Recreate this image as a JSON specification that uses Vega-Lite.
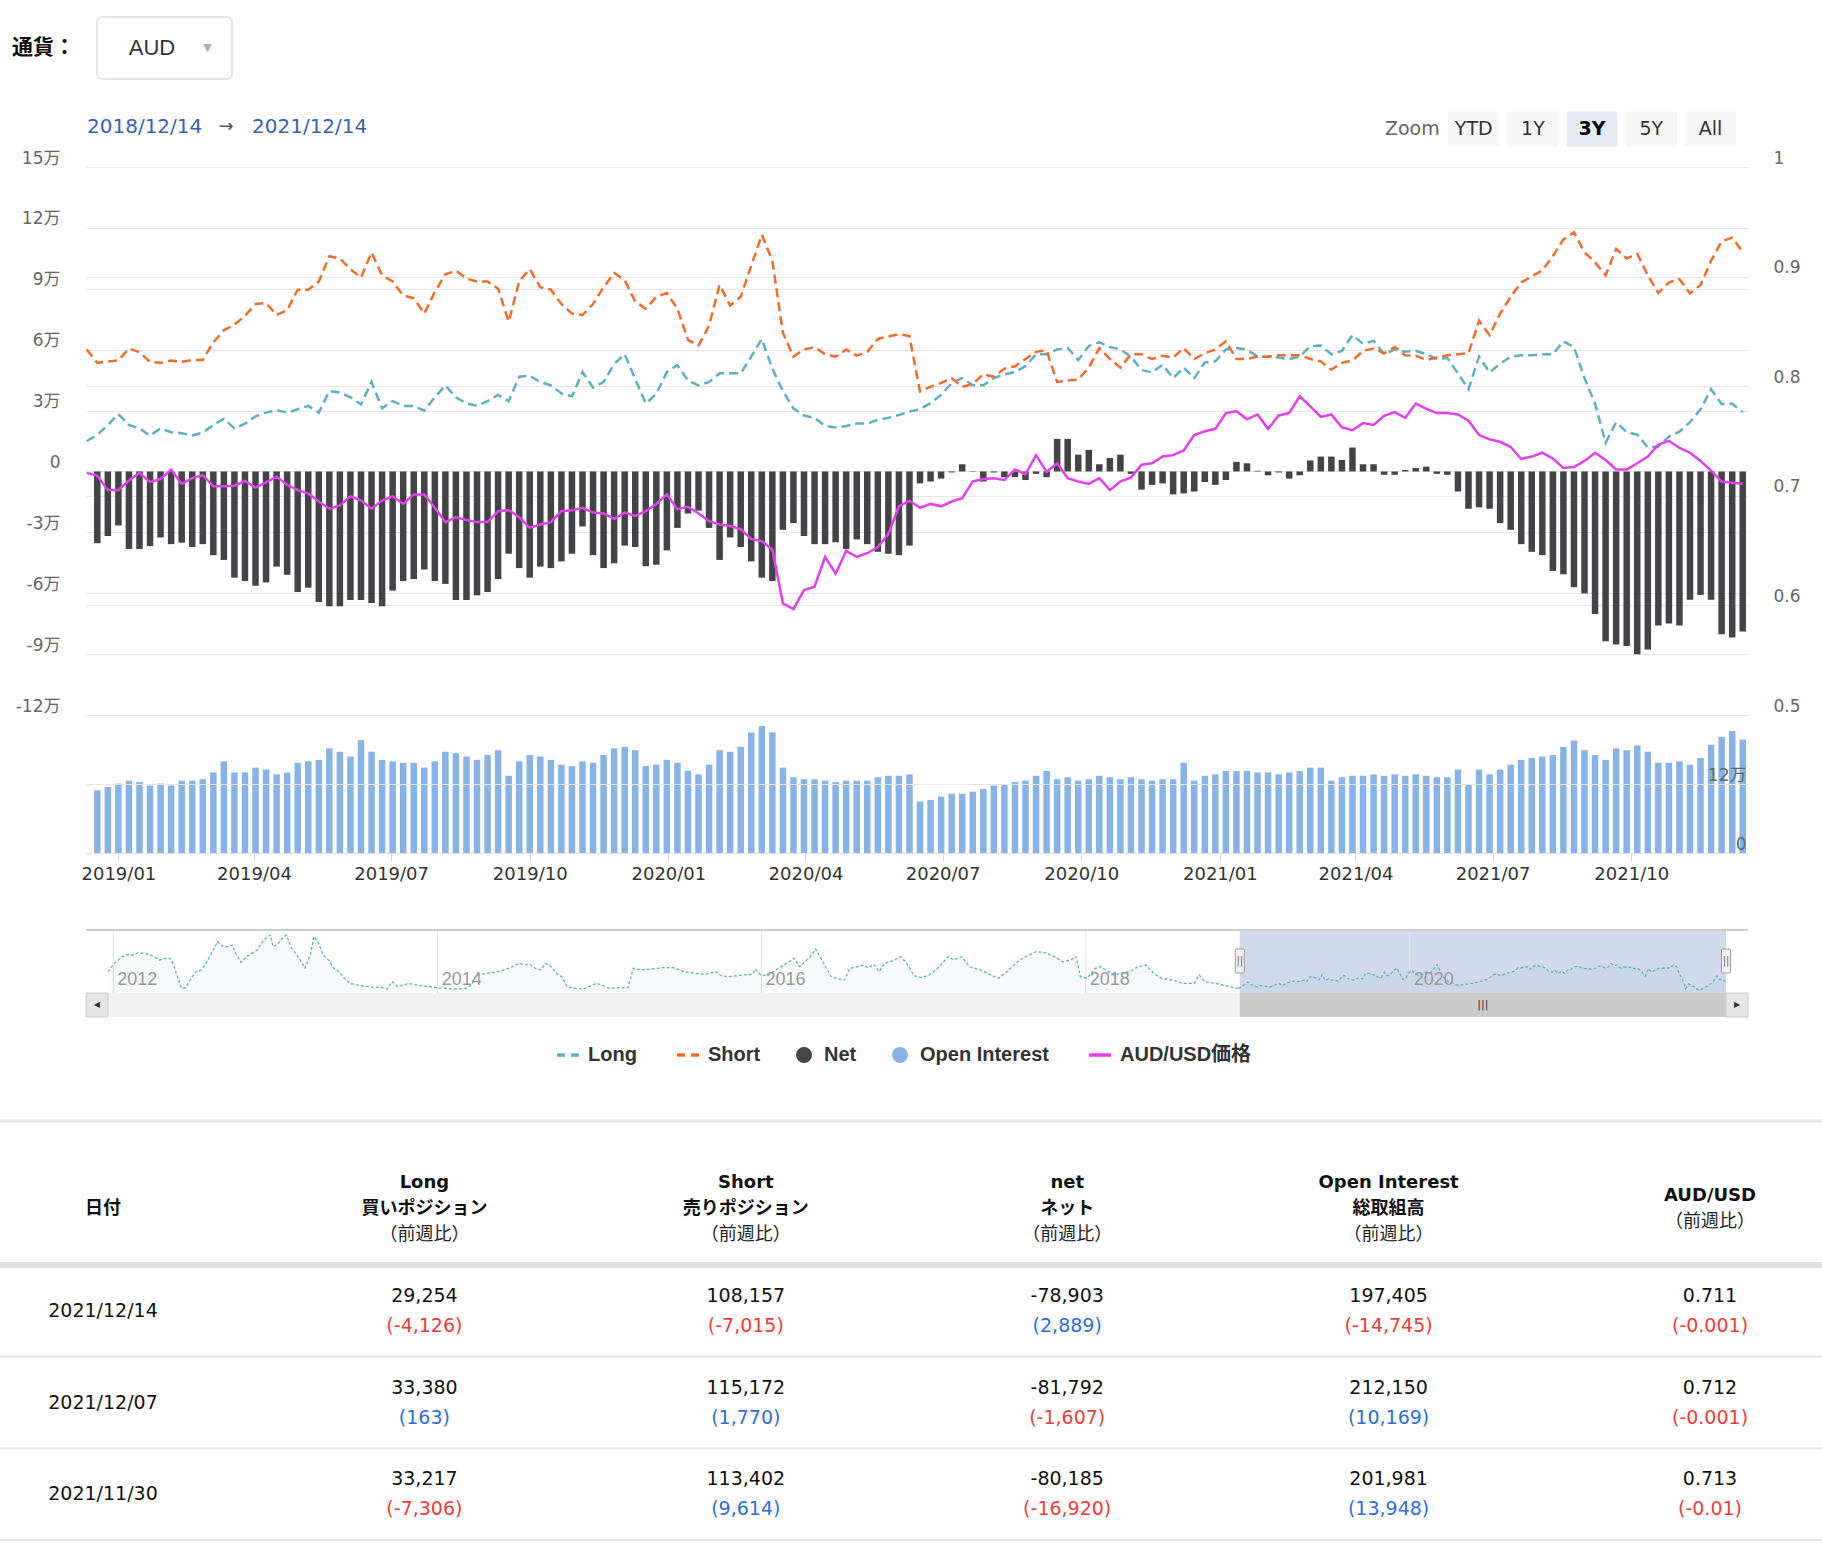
{
"$schema": "https://vega.github.io/schema/vega-lite/v6.json",
"width": 1662,
"height": 686,
"autosize": {"type": "none"},
"padding": {"left": 86, "top": 167, "right": 74, "bottom": 695},
"background": "#ffffff",
"config": {"view": {"stroke": null}, "font": "DejaVu Sans", "axis": {"labelFont": "DejaVu Sans, Noto Sans CJK JP"}, "text": {"font": "DejaVu Sans, Noto Sans CJK JP"}},
"datasets": {
"w": [
{"date":"2018-12-11","long":14850,"short":60100,"net":null,"oi":null,"aud":0.7209},
{"date":"2018-12-18","long":18150,"short":53500,"net":-35360,"oi":109070,"aud":0.7183},
{"date":"2018-12-25","long":22860,"short":54210,"net":-31820,"oi":114940,"aud":0.7052},
{"date":"2019-01-01","long":28280,"short":54680,"net":-26630,"oi":120820,"aud":0.7052},
{"date":"2019-01-08","long":22860,"short":60580,"net":-38180,"oi":125850,"aud":0.714},
{"date":"2019-01-15","long":21210,"short":58690,"net":-38180,"oi":123330,"aud":0.7209},
{"date":"2019-01-22","long":17680,"short":53980,"net":-36770,"oi":117460,"aud":0.7127},
{"date":"2019-01-29","long":21210,"short":53500,"net":-32530,"oi":120820,"aud":0.7153},
{"date":"2019-02-05","long":19330,"short":54680,"net":-35830,"oi":117460,"aud":0.724},
{"date":"2019-02-12","long":18860,"short":53980,"net":-35120,"oi":125850,"aud":0.7109},
{"date":"2019-02-19","long":17680,"short":54920,"net":-37240,"oi":125850,"aud":0.7161},
{"date":"2019-02-26","long":19090,"short":54920,"net":-35830,"oi":128370,"aud":0.7188},
{"date":"2019-03-05","long":22860,"short":63640,"net":-41250,"oi":140110,"aud":0.7087},
{"date":"2019-03-12","long":25930,"short":69530,"net":-43610,"oi":159410,"aud":0.7087},
{"date":"2019-03-19","long":21210,"short":72360,"net":-52330,"oi":140110,"aud":0.7092},
{"date":"2019-03-26","long":23570,"short":76600,"net":-53980,"oi":140110,"aud":0.7135},
{"date":"2019-04-02","long":27110,"short":82500,"net":-56330,"oi":148500,"aud":0.7074},
{"date":"2019-04-09","long":28990,"short":82970,"net":-54680,"oi":145150,"aud":0.7122},
{"date":"2019-04-16","long":30170,"short":77070,"net":-46900,"oi":136760,"aud":0.7175},
{"date":"2019-04-23","long":28990,"short":79430,"net":-50910,"oi":140110,"aud":0.71},
{"date":"2019-04-30","long":30640,"short":89570,"net":-59400,"oi":156890,"aud":0.7052},
{"date":"2019-05-07","long":32290,"short":89570,"net":-57280,"oi":159410,"aud":0.7022},
{"date":"2019-05-14","long":28990,"short":93570,"net":-64350,"oi":161930,"aud":0.6948},
{"date":"2019-05-21","long":39600,"short":106070,"net":-66470,"oi":182060,"aud":0.6882},
{"date":"2019-05-28","long":38890,"short":104890,"net":-66470,"oi":176190,"aud":0.6913},
{"date":"2019-06-04","long":36530,"short":99700,"net":-63400,"oi":167800,"aud":0.6996},
{"date":"2019-06-11","long":33000,"short":95460,"net":-63400,"oi":196330,"aud":0.6956},
{"date":"2019-06-18","long":44080,"short":107950,"net":-64820,"oi":176190,"aud":0.6882},
{"date":"2019-06-25","long":31110,"short":96640,"net":-66470,"oi":161930,"aud":0.6956},
{"date":"2019-07-02","long":34650,"short":93570,"net":-58690,"oi":159410,"aud":0.6996},
{"date":"2019-07-09","long":32290,"short":86740,"net":-53980,"oi":156890,"aud":0.6926},
{"date":"2019-07-16","long":32290,"short":85320,"net":-53030,"oi":156890,"aud":0.7013},
{"date":"2019-07-23","long":29930,"short":77780,"net":-48320,"oi":148500,"aud":0.7013},
{"date":"2019-07-30","long":36530,"short":88390,"net":-53980,"oi":159410,"aud":0.6891},
{"date":"2019-08-06","long":42430,"short":97110,"net":-55390,"oi":176190,"aud":0.676},
{"date":"2019-08-13","long":36530,"short":98990,"net":-63400,"oi":173670,"aud":0.6804},
{"date":"2019-08-20","long":33470,"short":94990,"net":-63400,"oi":167800,"aud":0.678},
{"date":"2019-08-27","long":32290,"short":93570,"net":-61050,"oi":161930,"aud":0.676},
{"date":"2019-09-03","long":34650,"short":93570,"net":-59400,"oi":170320,"aud":0.676},
{"date":"2019-09-10","long":37710,"short":90040,"net":-53030,"oi":178710,"aud":0.686},
{"date":"2019-09-17","long":34650,"short":73770,"net":-40540,"oi":134240,"aud":0.6869},
{"date":"2019-09-24","long":46670,"short":93810,"net":-47610,"oi":159410,"aud":0.6804},
{"date":"2019-10-01","long":47140,"short":99700,"net":-52330,"oi":170320,"aud":0.6708},
{"date":"2019-10-08","long":44080,"short":90750,"net":-46900,"oi":167800,"aud":0.6738},
{"date":"2019-10-15","long":42430,"short":89570,"net":-47610,"oi":161930,"aud":0.676},
{"date":"2019-10-22","long":38420,"short":82500,"net":-44310,"oi":153540,"aud":0.686},
{"date":"2019-10-29","long":37010,"short":77780,"net":-40540,"oi":151020,"aud":0.6869},
{"date":"2019-11-05","long":49030,"short":77070,"net":-27110,"oi":159410,"aud":0.6891},
{"date":"2019-11-12","long":41250,"short":82500,"net":-41250,"oi":156890,"aud":0.6847},
{"date":"2019-11-19","long":44080,"short":90750,"net":-47610,"oi":170320,"aud":0.6839},
{"date":"2019-11-26","long":53030,"short":97820,"net":-45250,"oi":182060,"aud":0.6791},
{"date":"2019-12-03","long":57750,"short":94280,"net":-36530,"oi":184580,"aud":0.6847},
{"date":"2019-12-10","long":45490,"short":83670,"net":-37240,"oi":178710,"aud":0.6817},
{"date":"2019-12-17","long":33470,"short":80140,"net":-46670,"oi":151020,"aud":0.686},
{"date":"2019-12-24","long":38180,"short":86030,"net":-45960,"oi":153540,"aud":0.6926},
{"date":"2019-12-31","long":49030,"short":87920,"net":-38890,"oi":161930,"aud":0.7013},
{"date":"2020-01-07","long":52330,"short":80140,"net":-27810,"oi":156890,"aud":0.6878},
{"date":"2020-01-14","long":44780,"short":64820,"net":-20740,"oi":142630,"aud":0.69},
{"date":"2020-01-21","long":42430,"short":61990,"net":-19330,"oi":136760,"aud":0.6839},
{"date":"2020-01-28","long":44080,"short":71890,"net":-27810,"oi":153540,"aud":0.6769},
{"date":"2020-02-04","long":48320,"short":91920,"net":-43610,"oi":178710,"aud":0.6738},
{"date":"2020-02-11","long":48320,"short":81790,"net":-32530,"oi":176190,"aud":0.6725},
{"date":"2020-02-18","long":48320,"short":86030,"net":-37240,"oi":184580,"aud":0.6695},
{"date":"2020-02-25","long":56570,"short":101350,"net":-44310,"oi":209750,"aud":0.6607},
{"date":"2020-03-03","long":65290,"short":116670,"net":-52330,"oi":220660,"aud":0.6586},
{"date":"2020-03-10","long":50680,"short":103710,"net":-53980,"oi":209750,"aud":0.6511},
{"date":"2020-03-17","long":39600,"short":68350,"net":-28760,"oi":148500,"aud":0.6018},
{"date":"2020-03-24","long":31110,"short":56570,"net":-25460,"oi":131720,"aud":0.5966},
{"date":"2020-03-31","long":27580,"short":60100,"net":-31820,"oi":128370,"aud":0.614},
{"date":"2020-04-07","long":26400,"short":61280,"net":-35830,"oi":128370,"aud":0.6171},
{"date":"2020-04-14","long":22390,"short":57750,"net":-35830,"oi":125850,"aud":0.6442},
{"date":"2020-04-21","long":21680,"short":56570,"net":-34880,"oi":123330,"aud":0.6289},
{"date":"2020-04-28","long":22390,"short":60100,"net":-38180,"oi":125850,"aud":0.6498},
{"date":"2020-05-05","long":23570,"short":57040,"net":-33470,"oi":125850,"aud":0.6442},
{"date":"2020-05-12","long":23570,"short":58930,"net":-35830,"oi":125850,"aud":0.6476},
{"date":"2020-05-19","long":25460,"short":65290,"net":-39600,"oi":131720,"aud":0.6533},
{"date":"2020-05-26","long":26400,"short":66470,"net":-40540,"oi":134240,"aud":0.6651},
{"date":"2020-06-02","long":27810,"short":67650,"net":-41250,"oi":134240,"aud":0.6904},
{"date":"2020-06-09","long":29460,"short":66700,"net":-36530,"oi":136760,"aud":0.6956},
{"date":"2020-06-16","long":30640,"short":39360,"net":-5890,"oi":89770,"aud":0.6891},
{"date":"2020-06-23","long":33710,"short":41720,"net":-4950,"oi":92290,"aud":0.6926},
{"date":"2020-06-30","long":37710,"short":43610,"net":-3540,"oi":98160,"aud":0.6904},
{"date":"2020-07-07","long":43610,"short":45960,"net":-500,"oi":103200,"aud":0.6948},
{"date":"2020-07-14","long":45960,"short":41720,"net":3540,"oi":103200,"aud":0.6978},
{"date":"2020-07-21","long":42430,"short":43130,"net":-200,"oi":106550,"aud":0.7131},
{"date":"2020-07-28","long":42430,"short":47850,"net":-4950,"oi":111590,"aud":0.7153},
{"date":"2020-08-04","long":45960,"short":46670,"net":-500,"oi":117460,"aud":0.7161},
{"date":"2020-08-11","long":47850,"short":50680,"net":-2830,"oi":119980,"aud":0.7144},
{"date":"2020-08-18","long":49030,"short":51850,"net":-2830,"oi":123330,"aud":0.724},
{"date":"2020-08-25","long":51850,"short":55390,"net":-4240,"oi":125850,"aud":0.7196},
{"date":"2020-09-01","long":57750,"short":58930,"net":-1180,"oi":134240,"aud":0.7371},
{"date":"2020-09-08","long":57750,"short":59630,"net":-2830,"oi":142630,"aud":0.7218},
{"date":"2020-09-15","long":60100,"short":44080,"net":16030,"oi":128370,"aud":0.7297},
{"date":"2020-09-22","long":60810,"short":44780,"net":16030,"oi":131720,"aud":0.7161},
{"date":"2020-09-29","long":54920,"short":45250,"net":8250,"oi":125850,"aud":0.7131},
{"date":"2020-10-06","long":61750,"short":51150,"net":10610,"oi":128370,"aud":0.7109},
{"date":"2020-10-13","long":63640,"short":60810,"net":3540,"oi":134240,"aud":0.7161},
{"date":"2020-10-20","long":61280,"short":55390,"net":6600,"oi":131720,"aud":0.7052},
{"date":"2020-10-27","long":60100,"short":51150,"net":8250,"oi":128370,"aud":0.7131},
{"date":"2020-11-03","long":56570,"short":57750,"net":-1180,"oi":131720,"aud":0.7166},
{"date":"2020-11-10","long":49970,"short":57750,"net":-8960,"oi":128370,"aud":0.7284},
{"date":"2020-11-17","long":48790,"short":55390,"net":-6600,"oi":125850,"aud":0.7297},
{"date":"2020-11-24","long":52560,"short":57040,"net":-5890,"oi":128370,"aud":0.7358},
{"date":"2020-12-01","long":45960,"short":56100,"net":-11310,"oi":128370,"aud":0.7371},
{"date":"2020-12-08","long":51150,"short":60810,"net":-10840,"oi":156890,"aud":0.7414},
{"date":"2020-12-15","long":45960,"short":55390,"net":-9900,"oi":125850,"aud":0.7554},
{"date":"2020-12-22","long":53740,"short":58220,"net":-5190,"oi":134240,"aud":0.7589},
{"date":"2020-12-29","long":54210,"short":60100,"net":-6600,"oi":136760,"aud":0.7611},
{"date":"2021-01-05","long":60100,"short":64110,"net":-4240,"oi":142630,"aud":0.7755},
{"date":"2021-01-12","long":60810,"short":55390,"net":4710,"oi":142630,"aud":0.7772},
{"date":"2021-01-19","long":60100,"short":55390,"net":4010,"oi":142630,"aud":0.7698},
{"date":"2021-01-26","long":56570,"short":56570,"net":300,"oi":140110,"aud":0.7742},
{"date":"2021-02-02","long":56570,"short":56570,"net":-1890,"oi":140110,"aud":0.7611},
{"date":"2021-02-09","long":56100,"short":57280,"net":-500,"oi":136760,"aud":0.7733},
{"date":"2021-02-16","long":55390,"short":57280,"net":-3540,"oi":140110,"aud":0.7755},
{"date":"2021-02-23","long":56570,"short":57280,"net":-1890,"oi":142630,"aud":0.7908},
{"date":"2021-03-02","long":61750,"short":55390,"net":5420,"oi":148500,"aud":0.7816},
{"date":"2021-03-09","long":61990,"short":54210,"net":7310,"oi":148500,"aud":0.772},
{"date":"2021-03-16","long":57750,"short":50200,"net":7310,"oi":125850,"aud":0.7742},
{"date":"2021-03-23","long":59400,"short":53500,"net":5660,"oi":131720,"aud":0.7624},
{"date":"2021-03-30","long":67180,"short":54680,"net":11790,"oi":134240,"aud":0.7598},
{"date":"2021-04-06","long":62930,"short":59400,"net":3540,"oi":134240,"aud":0.7663},
{"date":"2021-04-13","long":64350,"short":60580,"net":3540,"oi":136760,"aud":0.7646},
{"date":"2021-04-20","long":57750,"short":58220,"net":-1650,"oi":134240,"aud":0.7729},
{"date":"2021-04-27","long":60100,"short":61280,"net":-1650,"oi":136760,"aud":0.7764},
{"date":"2021-05-04","long":58930,"short":57280,"net":700,"oi":134240,"aud":0.7711},
{"date":"2021-05-11","long":59400,"short":57040,"net":1650,"oi":136760,"aud":0.7842},
{"date":"2021-05-18","long":57750,"short":54920,"net":2360,"oi":134240,"aud":0.7794},
{"date":"2021-05-25","long":55390,"short":56100,"net":-1200,"oi":131720,"aud":0.7755},
{"date":"2021-06-01","long":55860,"short":57280,"net":-1650,"oi":131720,"aud":0.7755},
{"date":"2021-06-08","long":48320,"short":57750,"net":-9900,"oi":145150,"aud":0.7742},
{"date":"2021-06-15","long":40540,"short":58220,"net":-18390,"oi":119980,"aud":0.7685},
{"date":"2021-06-22","long":56570,"short":74250,"net":-17680,"oi":145150,"aud":0.7554},
{"date":"2021-06-29","long":48790,"short":67180,"net":-18390,"oi":136760,"aud":0.7515},
{"date":"2021-07-06","long":53030,"short":77780,"net":-25460,"oi":145150,"aud":0.7493},
{"date":"2021-07-13","long":56570,"short":86030,"net":-28760,"oi":153540,"aud":0.7445},
{"date":"2021-07-20","long":57280,"short":93100,"net":-35830,"oi":161930,"aud":0.7336},
{"date":"2021-07-27","long":57280,"short":96170,"net":-39600,"oi":165280,"aud":0.7358},
{"date":"2021-08-03","long":57750,"short":98990,"net":-41250,"oi":167800,"aud":0.7393},
{"date":"2021-08-10","long":57750,"short":106070,"net":-49030,"oi":170320,"aud":0.734},
{"date":"2021-08-17","long":64110,"short":114320,"net":-50680,"oi":184580,"aud":0.7253},
{"date":"2021-08-24","long":61280,"short":117850,"net":-57040,"oi":195490,"aud":0.7262},
{"date":"2021-08-31","long":45960,"short":107950,"net":-60100,"oi":178710,"aud":0.7318},
{"date":"2021-09-07","long":33470,"short":103000,"net":-70240,"oi":170320,"aud":0.7393},
{"date":"2021-09-14","long":14140,"short":96640,"net":-83670,"oi":161930,"aud":0.7327},
{"date":"2021-09-21","long":24280,"short":109600,"net":-85320,"oi":182060,"aud":0.724},
{"date":"2021-09-28","long":19330,"short":104890,"net":-86030,"oi":178710,"aud":0.724},
{"date":"2021-10-05","long":18150,"short":107240,"net":-90040,"oi":187100,"aud":0.7297},
{"date":"2021-10-12","long":11790,"short":96640,"net":-87680,"oi":176190,"aud":0.7358},
{"date":"2021-10-19","long":12260,"short":87920,"net":-75890,"oi":156890,"aud":0.7467},
{"date":"2021-10-26","long":17210,"short":93100,"net":-74950,"oi":156890,"aud":0.7502},
{"date":"2021-11-02","long":19560,"short":94750,"net":-75890,"oi":159410,"aud":0.7436},
{"date":"2021-11-09","long":24280,"short":87680,"net":-63170,"oi":153540,"aud":0.7393},
{"date":"2021-11-16","long":30640,"short":91920,"net":-60810,"oi":165280,"aud":0.7318},
{"date":"2021-11-23","long":40523,"short":103788,"net":-63265,"oi":188033,"aud":0.723},
{"date":"2021-11-30","long":33217,"short":113402,"net":-80185,"oi":201981,"aud":0.713},
{"date":"2021-12-07","long":33380,"short":115172,"net":-81792,"oi":212150,"aud":0.712},
{"date":"2021-12-14","long":29254,"short":108157,"net":-78903,"oi":197405,"aud":0.711}
],
"nav": [
{"date":"2011-12-20","long":50000},{"date":"2012-01-03","long":67600},{"date":"2012-01-21","long":81700},{"date":"2012-02-02","long":86600},
{"date":"2012-02-14","long":85200},{"date":"2012-02-26","long":90100},{"date":"2012-03-09","long":88700},{"date":"2012-03-21","long":86600},
{"date":"2012-04-02","long":81700},{"date":"2012-04-14","long":74700},{"date":"2012-04-26","long":78200},{"date":"2012-05-08","long":78200},
{"date":"2012-05-14","long":67600},{"date":"2012-05-26","long":36000},{"date":"2012-06-03","long":14900},{"date":"2012-06-12","long":16300},
{"date":"2012-06-24","long":36000},{"date":"2012-07-06","long":50000},{"date":"2012-07-18","long":53600},{"date":"2012-07-30","long":71100},
{"date":"2012-08-11","long":92300},{"date":"2012-08-23","long":113400},{"date":"2012-09-04","long":102800},{"date":"2012-09-16","long":102800},
{"date":"2012-09-25","long":106300},{"date":"2012-10-03","long":88700},{"date":"2012-10-15","long":69700},{"date":"2012-10-27","long":81700},
{"date":"2012-11-08","long":88700},{"date":"2012-11-20","long":95800},{"date":"2012-12-02","long":113400},{"date":"2012-12-14","long":123900},
{"date":"2012-12-20","long":127400},{"date":"2012-12-26","long":102800},{"date":"2013-01-07","long":109900},{"date":"2013-01-19","long":123900},
{"date":"2013-01-25","long":127400},{"date":"2013-02-06","long":99300},{"date":"2013-02-18","long":85200},{"date":"2013-03-02","long":67600},
{"date":"2013-03-08","long":57100},{"date":"2013-03-20","long":85200},{"date":"2013-03-28","long":123900},{"date":"2013-04-06","long":113400},
{"date":"2013-04-18","long":85200},{"date":"2013-04-30","long":74700},{"date":"2013-05-12","long":57100},{"date":"2013-05-24","long":50000},
{"date":"2013-06-05","long":36000},{"date":"2013-06-17","long":25400},{"date":"2013-06-29","long":23300},{"date":"2013-07-11","long":20500},
{"date":"2013-08-04","long":17700},{"date":"2013-08-28","long":16300},{"date":"2013-09-09","long":13400},{"date":"2013-09-21","long":28900},
{"date":"2013-10-03","long":18400},{"date":"2013-10-15","long":21900},{"date":"2013-10-27","long":25400},{"date":"2013-11-20","long":20500},
{"date":"2013-12-14","long":18400},{"date":"2013-12-30","long":16300},{"date":"2014-01-17","long":14900},{"date":"2014-02-10","long":13400},
{"date":"2014-03-06","long":14900},{"date":"2014-03-18","long":21900},{"date":"2014-03-30","long":43000},{"date":"2014-04-23","long":46500},
{"date":"2014-05-17","long":50000},{"date":"2014-06-10","long":57100},{"date":"2014-07-04","long":67600},{"date":"2014-07-16","long":64100},
{"date":"2014-07-28","long":65500},{"date":"2014-08-09","long":57100},{"date":"2014-08-21","long":53600},{"date":"2014-09-02","long":67600},
{"date":"2014-09-14","long":60600},{"date":"2014-09-26","long":46500},{"date":"2014-10-08","long":39500},{"date":"2014-10-20","long":18400},
{"date":"2014-11-07","long":14900},{"date":"2014-11-25","long":13400},{"date":"2014-12-13","long":20500},{"date":"2014-12-25","long":25400},
{"date":"2015-01-05","long":21900},{"date":"2015-01-23","long":14900},{"date":"2015-02-16","long":16300},{"date":"2015-03-06","long":16300},
{"date":"2015-03-18","long":57100},{"date":"2015-04-05","long":53600},{"date":"2015-04-29","long":55700},{"date":"2015-05-23","long":58500},
{"date":"2015-06-16","long":58500},{"date":"2015-07-10","long":50000},{"date":"2015-08-03","long":46500},{"date":"2015-08-27","long":44400},
{"date":"2015-09-20","long":50000},{"date":"2015-10-01","long":41600},{"date":"2015-10-19","long":39500},{"date":"2015-11-18","long":43000},
{"date":"2015-12-12","long":44400},{"date":"2015-12-18","long":55700},{"date":"2015-12-30","long":43000},{"date":"2016-01-15","long":41600},
{"date":"2016-02-08","long":57100},{"date":"2016-03-03","long":71100},{"date":"2016-03-15","long":78200},{"date":"2016-03-27","long":60600},
{"date":"2016-04-08","long":71100},{"date":"2016-04-20","long":81700},{"date":"2016-05-02","long":97900},{"date":"2016-05-14","long":78200},
{"date":"2016-05-26","long":57100},{"date":"2016-06-06","long":39500},{"date":"2016-06-18","long":36000},{"date":"2016-07-06","long":32400},
{"date":"2016-07-18","long":57100},{"date":"2016-08-05","long":60600},{"date":"2016-08-17","long":64100},{"date":"2016-08-29","long":58500},
{"date":"2016-09-10","long":65500},{"date":"2016-09-22","long":50000},{"date":"2016-10-04","long":67600},{"date":"2016-10-22","long":72600},
{"date":"2016-11-09","long":81700},{"date":"2016-11-21","long":71100},{"date":"2016-12-09","long":43000},{"date":"2016-12-15","long":39500},
{"date":"2016-12-27","long":37400},{"date":"2017-01-13","long":43000},{"date":"2017-02-01","long":57100},{"date":"2017-02-25","long":81700},
{"date":"2017-03-09","long":74700},{"date":"2017-03-27","long":81700},{"date":"2017-04-14","long":60600},{"date":"2017-05-08","long":53600},
{"date":"2017-06-01","long":43000},{"date":"2017-06-19","long":36000},{"date":"2017-07-07","long":50000},{"date":"2017-07-31","long":71100},
{"date":"2017-08-18","long":81700},{"date":"2017-09-11","long":92300},{"date":"2017-09-29","long":90900},{"date":"2017-10-23","long":81700},
{"date":"2017-11-10","long":71100},{"date":"2017-11-28","long":74700},{"date":"2017-12-10","long":81700},{"date":"2017-12-20","long":39500},
{"date":"2018-01-04","long":36000},{"date":"2018-01-22","long":57100},{"date":"2018-02-03","long":60600},{"date":"2018-02-15","long":53600},
{"date":"2018-03-05","long":43000},{"date":"2018-03-23","long":46500},{"date":"2018-04-10","long":50000},{"date":"2018-04-28","long":60600},
{"date":"2018-05-16","long":64100},{"date":"2018-06-03","long":46500},{"date":"2018-06-21","long":36000},{"date":"2018-07-15","long":32400},
{"date":"2018-08-08","long":25400},{"date":"2018-09-02","long":25400},{"date":"2018-09-14","long":43000},{"date":"2018-09-26","long":28900},
{"date":"2018-10-20","long":25400},{"date":"2018-11-13","long":20500},{"date":"2018-12-01","long":16300},{"date":"2018-12-11","long":14850}
],
"years": [{"year":"2012-01-01"},{"year":"2014-01-01"},{"year":"2016-01-01"},{"year":"2018-01-01"},{"year":"2020-01-01"}],
"handles": [{"at":"2018-12-14"},{"at":"2021-12-14"}],
"rows": [{"date":"2021/12/14"},{"date":"2021/12/07"},{"date":"2021/11/30"}],
"cells": [
{"date":"2021/12/14","col":"long","value":"29,254","change":"(-4,126)"},
{"date":"2021/12/14","col":"short","value":"108,157","change":"(-7,015)"},
{"date":"2021/12/14","col":"net","value":"-78,903","change":"(2,889)"},
{"date":"2021/12/14","col":"oi","value":"197,405","change":"(-14,745)"},
{"date":"2021/12/14","col":"aud","value":"0.711","change":"(-0.001)"},
{"date":"2021/12/07","col":"long","value":"33,380","change":"(163)"},
{"date":"2021/12/07","col":"short","value":"115,172","change":"(1,770)"},
{"date":"2021/12/07","col":"net","value":"-81,792","change":"(-1,607)"},
{"date":"2021/12/07","col":"oi","value":"212,150","change":"(10,169)"},
{"date":"2021/12/07","col":"aud","value":"0.712","change":"(-0.001)"},
{"date":"2021/11/30","col":"long","value":"33,217","change":"(-7,306)"},
{"date":"2021/11/30","col":"short","value":"113,402","change":"(9,614)"},
{"date":"2021/11/30","col":"net","value":"-80,185","change":"(-16,920)"},
{"date":"2021/11/30","col":"oi","value":"201,981","change":"(13,948)"},
{"date":"2021/11/30","col":"aud","value":"0.713","change":"(-0.01)"}
],
"heads": [
{"col":"date","t1":"日付"},
{"col":"long","t1":"Long","t2":"買いポジション","t3":"（前週比）"},
{"col":"short","t1":"Short","t2":"売りポジション","t3":"（前週比）"},
{"col":"net","t1":"net","t2":"ネット","t3":"（前週比）"},
{"col":"oi","t1":"Open Interest","t2":"総取組高","t3":"（前週比）"},
{"col":"aud","t1":"AUD/USD","t3":"（前週比）"}
],
"btns": [{"range":"YTD"},{"range":"1Y"},{"range":"3Y","active":true},{"range":"5Y"},{"range":"All"}]
},
"resolve": {"scale": {"x": "independent", "y": "independent"}, "axis": {"x": "independent", "y": "independent"}},
"layer": [
{
 "data": {"name": "w"},
 "layer": [
  {
   "mark": {"type": "bar", "width": 6.5},
   "encoding": {
    "x": {"field": "date", "type": "temporal",
      "scale": {"type": "utc", "nice": false, "padding": 0, "domain": [{"year": 2018, "month": 12, "date": 10, "hours": 12, "utc": true}, {"year": 2021, "month": 12, "date": 17, "hours": 12, "utc": true}]},
      "axis": {"orient": "bottom", "values": [
        {"year": 2019, "month": 1, "date": 1, "utc": true}, {"year": 2019, "month": 4, "date": 1, "utc": true}, {"year": 2019, "month": 7, "date": 1, "utc": true}, {"year": 2019, "month": 10, "date": 1, "utc": true},
        {"year": 2020, "month": 1, "date": 1, "utc": true}, {"year": 2020, "month": 4, "date": 1, "utc": true}, {"year": 2020, "month": 7, "date": 1, "utc": true}, {"year": 2020, "month": 10, "date": 1, "utc": true},
        {"year": 2021, "month": 1, "date": 1, "utc": true}, {"year": 2021, "month": 4, "date": 1, "utc": true}, {"year": 2021, "month": 7, "date": 1, "utc": true}, {"year": 2021, "month": 10, "date": 1, "utc": true}],
        "format": "%Y/%m", "labelFontSize": 18, "labelColor": "#333333", "labelPadding": 4, "labelFlush": false, "labelOverlap": false,
        "tickColor": "#ccd6eb", "tickSize": 8, "domainColor": "#ccd6eb", "grid": false, "title": null}},
    "y": {"field": "net", "type": "quantitative", "scale": {"domain": [-120000, 150000], "range": [548, 0], "nice": false, "zero": false},
      "axis": {"orient": "left", "values": [-120000, -90000, -60000, -30000, 0, 30000, 60000, 90000, 120000, 150000],
        "labelExpr": "datum.value == 0 ? '0' : (datum.value / 10000) + '万'", "grid": true, "gridColor": "#e6e6e6", "domain": false, "ticks": false, "tickSize": 0,
        "labelPadding": 26, "labelFontSize": 17, "labelColor": "#666666", "labelOffset": -9, "labelFlush": false, "labelOverlap": false, "title": null}},
    "color": {"datum": "Net", "scale": {"domain": ["Long", "Short", "Net", "Open Interest", "AUD/USD価格"], "range": ["#5eafc2", "#f26c2b", "#434348", "#88b3e6", "#e43ff1"]},
      "legend": {"orient": "none", "legendX": 472, "legendY": 878, "direction": "horizontal", "title": null,
        "labelFont": "Liberation Sans, Noto Sans CJK JP", "labelFontSize": 20, "labelFontWeight": "bold", "labelColor": "#333333",
        "symbolSize": 484, "labelOffset": 10, "columnPadding": 33, "padding": 0, "symbolType": "circle",
        "encode": {"symbols": {"update": {
          "shape": {"signal": "datum.value === 'Net' || datum.value === 'Open Interest' ? 'circle' : 'M-1,0H1'"},
          "size": {"signal": "datum.value === 'Net' || datum.value === 'Open Interest' ? 254 : 484"},
          "fill": {"signal": "datum.value === 'Net' || datum.value === 'Open Interest' ? scale('color', datum.value) : 'transparent'"},
          "stroke": {"signal": "scale('color', datum.value)"},
          "strokeWidth": {"signal": "datum.value === 'Net' || datum.value === 'Open Interest' ? 0 : 3.5"},
          "strokeDash": {"signal": "datum.value === 'Long' || datum.value === 'Short' ? [8, 6] : [1, 0]"},
          "opacity": {"value": 1}}}}}}
   }
  },
  {
   "mark": {"type": "line", "strokeWidth": 2.5, "strokeDash": [9, 5]},
   "encoding": {"x": {"field": "date", "type": "temporal"}, "y": {"field": "long", "type": "quantitative"}, "color": {"datum": "Long"}}
  },
  {
   "mark": {"type": "line", "strokeWidth": 2.5, "strokeDash": [9, 5]},
   "encoding": {"x": {"field": "date", "type": "temporal"}, "y": {"field": "short", "type": "quantitative"}, "color": {"datum": "Short"}}
  }
 ]
},
{
 "data": {"name": "w"},
 "mark": {"type": "line", "strokeWidth": 2.5},
 "encoding": {
  "x": {"field": "date", "type": "temporal", "scale": {"type": "utc", "nice": false, "padding": 0, "domain": [{"year": 2018, "month": 12, "date": 10, "hours": 12, "utc": true}, {"year": 2021, "month": 12, "date": 17, "hours": 12, "utc": true}]}, "axis": null},
  "y": {"field": "aud", "type": "quantitative", "scale": {"domain": [0.5, 1], "range": [548, 0], "nice": false, "zero": false},
    "axis": {"orient": "right", "values": [0.5, 0.6, 0.7, 0.8, 0.9, 1], "format": "~g", "grid": true, "gridColor": "#e6e6e6", "domain": false, "ticks": false, "tickSize": 0,
      "labelPadding": 25, "labelAlign": "left", "labelFontSize": 17, "labelColor": "#666666", "labelOffset": -9, "labelFlush": false, "labelOverlap": false, "title": null}},
  "color": {"datum": "AUD/USD価格"}
 }
},
{
 "data": {"name": "w"},
 "mark": {"type": "bar", "width": 6.5},
 "encoding": {
  "x": {"field": "date", "type": "temporal", "scale": {"type": "utc", "nice": false, "padding": 0, "domain": [{"year": 2018, "month": 12, "date": 10, "hours": 12, "utc": true}, {"year": 2021, "month": 12, "date": 17, "hours": 12, "utc": true}]}, "axis": null},
  "y": {"field": "oi", "type": "quantitative", "scale": {"domain": [0, 240000], "range": [686, 548], "nice": false},
    "axis": {"orient": "right", "values": [0, 120000], "labelExpr": "datum.value == 0 ? '0' : (datum.value / 10000) + '万'", "grid": true, "gridColor": "#e6e6e6", "domain": false, "ticks": false, "tickSize": 0,
      "labelPadding": -2, "labelAlign": "right", "labelFontSize": 17, "labelColor": "#666666", "labelOffset": -9, "labelFlush": false, "labelOverlap": false, "title": null, "zindex": 1}},
  "color": {"datum": "Open Interest"}
 }
},
{
 "layer": [
  {"data": {"values": [{}]}, "mark": {"type": "rect", "color": "#6685c2", "opacity": 0.3},
   "encoding": {
    "x": {"datum": {"year": 2018, "month": 12, "date": 14, "utc": true}, "type": "temporal", "scale": {"type": "utc", "nice": false, "padding": 0, "domain": [{"year": 2011, "month": 12, "date": 20, "utc": true}, {"year": 2021, "month": 12, "date": 14, "utc": true}], "range": [22, 1640]}, "axis": null},
    "x2": {"datum": {"year": 2021, "month": 12, "date": 14, "utc": true}},
    "y": {"datum": 5000, "type": "quantitative", "scale": {"domain": [5000, 138000], "range": [826, 763], "nice": false, "zero": false, "padding": 0}, "axis": null},
    "y2": {"datum": 138000}}},
  {"data": {"name": "years"}, "mark": {"type": "rule", "color": "#e3e3e3", "strokeWidth": 1},
   "encoding": {"x": {"field": "year", "type": "temporal"}, "y": {"datum": 5000, "type": "quantitative"}, "y2": {"datum": 138000}}},
  {"data": {"name": "nav"}, "mark": {"type": "area", "color": "#5eafc2", "opacity": 0.06},
   "encoding": {"x": {"field": "date", "type": "temporal"}, "y": {"field": "long", "type": "quantitative"}, "y2": {"datum": 5000}}},
  {"data": {"name": "w"}, "mark": {"type": "area", "color": "#5eafc2", "opacity": 0.06},
   "encoding": {"x": {"field": "date", "type": "temporal"}, "y": {"field": "long", "type": "quantitative"}, "y2": {"datum": 5000}}},
  {"data": {"name": "nav"}, "mark": {"type": "line", "color": "#5eafc2", "strokeWidth": 1.3, "strokeDash": [3, 2]},
   "encoding": {"x": {"field": "date", "type": "temporal"}, "y": {"field": "long", "type": "quantitative"}}},
  {"data": {"name": "w"}, "mark": {"type": "line", "color": "#5eafc2", "strokeWidth": 1.3, "strokeDash": [3, 2]},
   "encoding": {"x": {"field": "date", "type": "temporal"}, "y": {"field": "long", "type": "quantitative"}}},
  {"data": {"name": "years"}, "mark": {"type": "text", "align": "left", "baseline": "bottom", "dx": 4, "dy": -4, "font": "Liberation Sans", "fontSize": 18, "color": "#999999"},
   "encoding": {"x": {"field": "year", "type": "temporal"}, "y": {"datum": 5000, "type": "quantitative"}, "text": {"field": "year", "type": "temporal", "timeUnit": "utcyear"}}},
  {"data": {"values": [{}]}, "mark": {"type": "rule", "color": "#cccccc", "strokeWidth": 2},
   "encoding": {"y": {"datum": 138000, "type": "quantitative"}}},
  {"data": {"name": "handles"}, "mark": {"type": "bar", "width": 9, "color": "#f2f2f2", "stroke": "#999999", "strokeWidth": 1, "cornerRadius": 1},
   "encoding": {"x": {"field": "at", "type": "temporal"}, "y": {"datum": 47200, "type": "quantitative"}, "y2": {"datum": 97900}}},
  {"data": {"name": "handles"}, "mark": {"type": "text", "text": "||", "fontSize": 10, "color": "#666666"},
   "encoding": {"x": {"field": "at", "type": "temporal"}, "y": {"datum": 72500, "type": "quantitative"}}}
 ]
},
{
 "data": {"values": [{}]},
 "layer": [
  {"mark": {"type": "rect", "color": "#f2f2f2"},
   "encoding": {
    "x": {"datum": {"year": 2011, "month": 10, "date": 31, "hours": 10, "utc": true}, "type": "temporal", "scale": {"type": "utc", "nice": false, "padding": 0, "domain": [{"year": 2011, "month": 12, "date": 20, "utc": true}, {"year": 2021, "month": 12, "date": 14, "utc": true}], "range": [22, 1640]}, "axis": null},
    "x2": {"datum": {"year": 2022, "month": 2, "date": 1, "hours": 14, "utc": true}},
    "y": {"datum": 0, "type": "quantitative", "scale": {"domain": [0, 1], "range": [850, 826], "nice": false, "padding": 0}, "axis": null},
    "y2": {"datum": 1}}},
  {"mark": {"type": "rect", "color": "#cccccc"},
   "encoding": {"x": {"datum": {"year": 2018, "month": 12, "date": 14, "utc": true}, "type": "temporal"}, "x2": {"datum": {"year": 2021, "month": 12, "date": 14, "utc": true}}, "y": {"datum": 0, "type": "quantitative"}, "y2": {"datum": 1}}},
  {"mark": {"type": "rect", "color": "#e6e6e6", "stroke": "#cccccc", "strokeWidth": 1},
   "encoding": {"x": {"datum": {"year": 2011, "month": 10, "date": 31, "hours": 10, "utc": true}, "type": "temporal"}, "x2": {"datum": {"year": 2011, "month": 12, "date": 20, "utc": true}}, "y": {"datum": 0, "type": "quantitative"}, "y2": {"datum": 1}}},
  {"mark": {"type": "rect", "color": "#e6e6e6", "stroke": "#cccccc", "strokeWidth": 1},
   "encoding": {"x": {"datum": {"year": 2021, "month": 12, "date": 14, "utc": true}, "type": "temporal"}, "x2": {"datum": {"year": 2022, "month": 2, "date": 1, "hours": 14, "utc": true}}, "y": {"datum": 0, "type": "quantitative"}, "y2": {"datum": 1}}},
  {"mark": {"type": "text", "text": "|||", "fontSize": 11, "color": "#333333"},
   "encoding": {"x": {"datum": {"year": 2020, "month": 6, "date": 14, "utc": true}, "type": "temporal"}, "y": {"datum": 0.5, "type": "quantitative"}}},
  {"mark": {"type": "text", "text": "◀", "fontSize": 8, "color": "#333333"},
   "encoding": {"x": {"datum": {"year": 2011, "month": 11, "date": 25, "utc": true}, "type": "temporal"}, "y": {"datum": 0.5, "type": "quantitative"}}},
  {"mark": {"type": "text", "text": "▶", "fontSize": 8, "color": "#333333"},
   "encoding": {"x": {"datum": {"year": 2022, "month": 1, "date": 8, "utc": true}, "type": "temporal"}, "y": {"datum": 0.5, "type": "quantitative"}}}
 ]
},
{
 "layer": [
  {"data": {"name": "rows"}, "mark": {"type": "text", "fontSize": 19, "color": "#111111"},
   "encoding": {
    "x": {"datum": "date", "type": "nominal", "scale": {"type": "point", "domain": ["date", "long", "short", "net", "oi", "aud"], "range": [17, 1624], "padding": 0}, "axis": null},
    "y": {"field": "date", "type": "nominal", "scale": {"type": "band", "domain": ["2021/12/14", "2021/12/07", "2021/11/30"], "range": [1098, 1373], "paddingInner": 0, "paddingOuter": 0}, "axis": null},
    "text": {"field": "date"}}},
  {"data": {"name": "cells"}, "mark": {"type": "text", "fontSize": 19, "color": "#111111", "dy": -15},
   "encoding": {"x": {"field": "col", "type": "nominal"}, "y": {"field": "date", "type": "nominal"}, "text": {"field": "value"}}},
  {"data": {"name": "cells"}, "mark": {"type": "text", "fontSize": 19, "dy": 15},
   "encoding": {"x": {"field": "col", "type": "nominal"}, "y": {"field": "date", "type": "nominal"}, "text": {"field": "change"},
    "color": {"condition": {"test": "indexof(datum.change, '-') >= 0", "value": "#f03c3c"}, "value": "#2e6fd5"}}}
 ]
},
{
 "data": {"name": "heads"},
 "encoding": {
  "x": {"field": "col", "type": "nominal", "scale": {"type": "point", "domain": ["date", "long", "short", "net", "oi", "aud"], "range": [17, 1624], "padding": 0}, "axis": null},
  "y": {"datum": "h", "type": "nominal", "scale": {"type": "band", "domain": ["h"], "range": [954, 1098], "paddingInner": 0, "paddingOuter": 0}, "axis": null}
 },
 "layer": [
  {"transform": [{"filter": "isValid(datum.t2)"}],
   "mark": {"type": "text", "fontSize": 18, "fontWeight": "bold", "color": "#111111", "dy": -10},
   "encoding": {"text": {"field": "t1"}}},
  {"transform": [{"filter": "isValid(datum.t2)"}],
   "mark": {"type": "text", "fontSize": 18, "fontWeight": "bold", "color": "#111111", "dy": 16},
   "encoding": {"text": {"field": "t2"}}},
  {"transform": [{"filter": "isValid(datum.t2)"}],
   "mark": {"type": "text", "fontSize": 18, "color": "#222222", "dy": 42},
   "encoding": {"text": {"field": "t3"}}},
  {"transform": [{"filter": "!isValid(datum.t2) && isValid(datum.t3)"}],
   "mark": {"type": "text", "fontSize": 18, "fontWeight": "bold", "color": "#111111", "dy": 3},
   "encoding": {"text": {"field": "t1"}}},
  {"transform": [{"filter": "!isValid(datum.t2) && isValid(datum.t3)"}],
   "mark": {"type": "text", "fontSize": 18, "color": "#222222", "dy": 29},
   "encoding": {"text": {"field": "t3"}}},
  {"transform": [{"filter": "!isValid(datum.t3)"}],
   "mark": {"type": "text", "fontSize": 18, "fontWeight": "bold", "color": "#111111", "dy": 16},
   "encoding": {"text": {"field": "t1"}}}
 ]
},
{
 "data": {"name": "rows"},
 "mark": {"type": "rule", "color": "#e4e8eb", "strokeWidth": 2},
 "encoding": {
  "x": {"datum": 0, "type": "quantitative", "scale": {"domain": [0, 1], "range": [-86, 1736]}, "axis": null},
  "x2": {"datum": 1},
  "y": {"field": "date", "type": "nominal", "scale": {"type": "band", "domain": ["2021/12/14", "2021/12/07", "2021/11/30"], "range": [1098, 1373], "paddingInner": 0, "paddingOuter": 0}, "axis": null, "bandPosition": 1}
 }
},
{
 "data": {"values": [{"section": "h"}]},
 "layer": [
  {"mark": {"type": "rule", "color": "#e4e8eb", "strokeWidth": 3},
   "encoding": {
    "x": {"datum": 0, "type": "quantitative", "scale": {"domain": [0, 1], "range": [-86, 1736]}, "axis": null},
    "x2": {"datum": 1},
    "y": {"field": "section", "type": "nominal", "scale": {"type": "band", "domain": ["h"], "range": [954, 1098], "paddingInner": 0, "paddingOuter": 0}, "axis": null, "bandPosition": 0}}},
  {"mark": {"type": "rule", "color": "#dde3e6", "strokeWidth": 6},
   "encoding": {"x": {"datum": 0, "type": "quantitative"}, "x2": {"datum": 1}, "y": {"field": "section", "type": "nominal", "bandPosition": 1}}}
 ]
},
{
 "data": {"values": [{"label": "通貨："}]},
 "mark": {"type": "text", "align": "left", "baseline": "middle", "font": "Noto Sans CJK JP", "fontWeight": "bold", "fontSize": 21, "color": "#111111"},
 "encoding": {
  "x": {"field": "label", "type": "nominal", "scale": {"type": "point", "range": [-74, -74]}, "axis": null},
  "y": {"field": "label", "type": "nominal", "scale": {"type": "point", "range": [-119, -119]}, "axis": null},
  "text": {"field": "label"}
 }
},
{
 "data": {"values": [{"currency": "AUD"}]},
 "layer": [
  {"mark": {"type": "bar", "width": 135, "height": 62, "fill": "#ffffff", "stroke": "#d8dee4", "strokeWidth": 1.5, "cornerRadius": 5},
   "encoding": {
    "x": {"field": "currency", "type": "nominal", "scale": {"type": "point", "range": [78.5, 78.5]}, "axis": null},
    "y": {"field": "currency", "type": "nominal", "scale": {"type": "point", "range": [-119, -119]}, "axis": null}}},
  {"mark": {"type": "text", "dx": -12.5, "font": "Liberation Sans", "fontSize": 22, "color": "#333333"},
   "encoding": {"x": {"field": "currency", "type": "nominal"}, "y": {"field": "currency", "type": "nominal"}, "text": {"field": "currency"}}},
  {"mark": {"type": "text", "text": "▼", "dx": 43, "fontSize": 11, "color": "#a6afb8"},
   "encoding": {"x": {"field": "currency", "type": "nominal"}, "y": {"field": "currency", "type": "nominal"}}}
 ]
},
{
 "data": {"values": [{"from": "2018/12/14", "to": "2021/12/14"}]},
 "layer": [
  {"mark": {"type": "text", "align": "left", "fontSize": 20, "color": "#3d5fb2"},
   "encoding": {
    "x": {"field": "from", "type": "nominal", "scale": {"type": "point", "domain": ["2018/12/14", "2021/12/14"], "range": [1, 166], "padding": 0}, "axis": null},
    "y": {"datum": "r", "type": "nominal", "scale": {"type": "point", "range": [-40, -40]}, "axis": null},
    "text": {"field": "from"}}},
  {"mark": {"type": "text", "align": "left", "fontSize": 20, "color": "#3d5fb2"},
   "encoding": {"x": {"field": "to", "type": "nominal"}, "y": {"datum": "r", "type": "nominal"}, "text": {"field": "to"}}},
  {"mark": {"type": "text", "text": "→", "dx": 139, "fontSize": 18, "color": "#555555"},
   "encoding": {"x": {"field": "from", "type": "nominal"}, "y": {"datum": "r", "type": "nominal"}}}
 ]
},
{
 "data": {"name": "btns"},
 "layer": [
  {"mark": {"type": "bar", "width": 51, "height": 35, "cornerRadius": 2},
   "encoding": {
    "x": {"field": "range", "type": "nominal", "scale": {"type": "point", "domain": ["YTD", "1Y", "3Y", "5Y", "All"], "range": [1387.7, 1624.5], "padding": 0}, "axis": null},
    "y": {"datum": "z", "type": "nominal", "scale": {"type": "point", "range": [-38, -38]}, "axis": null},
    "color": {"condition": {"test": "datum.active", "value": "#e6ebf5"}, "value": "#f7f7f7"}}},
  {"transform": [{"filter": "!datum.active"}],
   "mark": {"type": "text", "fontSize": 19, "color": "#333333"},
   "encoding": {"x": {"field": "range", "type": "nominal"}, "y": {"datum": "z", "type": "nominal"}, "text": {"field": "range"}}},
  {"transform": [{"filter": "datum.active"}],
   "mark": {"type": "text", "fontSize": 19, "fontWeight": "bold", "color": "#000000"},
   "encoding": {"x": {"field": "range", "type": "nominal"}, "y": {"datum": "z", "type": "nominal"}, "text": {"field": "range"}}},
  {"data": {"values": [{"t": "Zoom"}]},
   "mark": {"type": "text", "align": "right", "dx": -34, "fontSize": 19, "color": "#666666"},
   "encoding": {"x": {"datum": "YTD", "type": "nominal"}, "y": {"datum": "z", "type": "nominal"}, "text": {"field": "t"}}}
 ]
}
]
}
